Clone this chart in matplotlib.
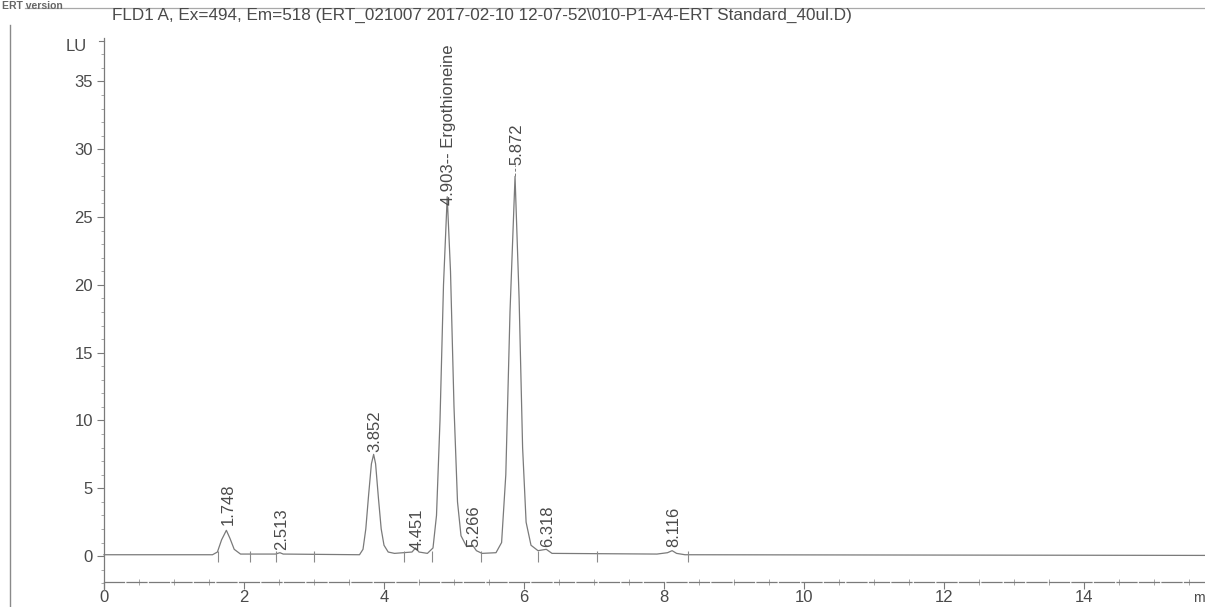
import matplotlib
matplotlib.use("Agg")
import matplotlib.pyplot as plt
from matplotlib.lines import Line2D
from matplotlib.ticker import MultipleLocator

# ---------------- data ----------------
trace_time = [0.0, 1.55, 1.62, 1.68, 1.748, 1.80, 1.86, 1.95, 2.45, 2.513, 2.56,
              3.65, 3.70, 3.74, 3.78, 3.82, 3.852, 3.88, 3.92, 3.96, 4.00, 4.06,
              4.15, 4.40, 4.451, 4.50, 4.62, 4.70, 4.75, 4.80, 4.85, 4.903, 4.95,
              5.00, 5.05, 5.10, 5.18, 5.266, 5.32, 5.40, 5.60, 5.68, 5.74, 5.80,
              5.872, 5.93, 5.98, 6.03, 6.10, 6.20, 6.318, 6.40, 7.90, 8.05, 8.116,
              8.18, 8.30, 15.8]
trace_signal = [0.1, 0.1, 0.3, 1.2, 1.9, 1.3, 0.5, 0.15, 0.15, 0.25, 0.15,
                0.1, 0.5, 2.0, 4.5, 6.8, 7.5, 6.8, 4.3, 2.0, 0.8, 0.3,
                0.2, 0.3, 0.6, 0.3, 0.2, 0.6, 3.0, 10.0, 20.0, 26.5, 21.0,
                11.0, 4.0, 1.5, 0.7, 0.8, 0.4, 0.2, 0.25, 1.0, 6.0, 18.0,
                28.0, 19.0, 8.0, 2.5, 0.8, 0.4, 0.5, 0.2, 0.15, 0.25, 0.4,
                0.2, 0.1, 0.05]

peak_times = [1.748, 2.513, 3.852, 4.451, 4.903, 5.266, 5.872, 6.318, 8.116]
peak_labels = ["1.748", "2.513", "3.852", "4.451", "4.903-- Ergothioneine",
               "5.266", "5.872", "6.318", "8.116"]
label_base = [2.3, 0.45, 7.7, 0.45, 25.9, 0.65, 28.8, 0.65, 0.65]
peak_tops = [1.9, 0.25, 7.5, 0.6, 26.5, 0.8, 28.0, 0.5, 0.4]

event_times = [1.63, 2.08, 2.45, 3.0, 4.28, 4.68, 5.38, 6.2, 7.04, 8.34]

x_ticks = [0, 2, 4, 6, 8, 10, 12, 14]
y_ticks = [0, 5, 10, 15, 20, 25, 30, 35]

title = "FLD1 A, Ex=494, Em=518 (ERT_021007 2017-02-10 12-07-52\\010-P1-A4-ERT Standard_40ul.D)"

# ---------------- style ----------------
plt.rcParams['font.family'] = ['Liberation Sans', 'DejaVu Sans']
TXT = '#4a4a4a'
LINE = '#7a7a7a'

W, H = 1205, 607
fig = plt.figure(figsize=(W / 100, H / 100), dpi=100)
fig.patch.set_facecolor('white')

ax_left, ax_right, ax_top, ax_bot = 104, 1205, 38, 590
ax = fig.add_axes([ax_left / W, (H - ax_bot) / H, (ax_right - ax_left) / W, (ax_bot - ax_top) / H])
ax.set_xlim(0, (ax_right - ax_left) / 70.0)
ax.set_ylim(-2.5, 38.2)
ax.patch.set_alpha(0)

for s in ('top', 'right'):
    ax.spines[s].set_visible(False)
ax.spines['bottom'].set_position(('data', -1.9))
for s in ('left', 'bottom'):
    ax.spines[s].set_color(LINE)
    ax.spines[s].set_linewidth(0.9)
ax.spines['bottom'].set_linestyle((0, (16, 2)))

ax.set_xticks(x_ticks)
ax.set_xticklabels([str(v) for v in x_ticks])
ax.xaxis.set_minor_locator(MultipleLocator(0.5))
ax.set_yticks(y_ticks)
ax.set_yticklabels([str(v) for v in y_ticks])
ax.yaxis.set_minor_locator(MultipleLocator(1))
ax.tick_params(axis='x', which='major', direction='out', length=5, width=0.8,
               color=LINE, labelcolor=TXT, labelsize=12, pad=1)
ax.tick_params(axis='x', which='minor', direction='inout', length=4, width=0.6, color='#9a9a9a')
ax.tick_params(axis='y', which='major', direction='out', length=5, width=0.8,
               color=LINE, labelcolor=TXT, labelsize=12, pad=3)
ax.tick_params(axis='y', which='minor', direction='out', length=2, width=0.6, color='#9a9a9a')

# trace
ax.plot(trace_time, trace_signal, color=LINE, lw=0.9, clip_on=False)

# integration event marks
ax.vlines(event_times, -0.4, 0.4, color='#8a8a8a', lw=0.8)

# peak labels
for t, lab, lb, top in zip(peak_times, peak_labels, label_base, peak_tops):
    if lb - top > 0.4:
        ax.plot([t, t], [top, lb], color=LINE, lw=0.7, ls=(0, (3, 2)))
    ax.text(t + 0.02, lb, lab, rotation=90, ha='center', va='bottom',
            fontsize=12, color=TXT)

# axis unit labels
ax.text(-0.25, 37.6, "LU", ha='right', va='center', fontsize=12, color=TXT)
ax.plot([-0.07, 0], [38.0, 38.0], color=LINE, lw=0.8, clip_on=False)
fig.text(1193 / W, 1 - 605 / H, "m", ha='left', va='bottom', fontsize=10, color=TXT)

# title
fig.text(112 / W, 1 - 15 / H, title, ha='left', va='center', fontsize=12.3, color=TXT)

# page frame lines from the scan
fig.add_artist(Line2D([10 / W, 10 / W], [0, 1 - 25 / H], color='#8a8a8a', lw=1.0))
fig.add_artist(Line2D([25 / W, 1], [1 - 8 / H, 1 - 8 / H], color='#a8a8a8', lw=0.9))
fig.text(2 / W, 1 - 1 / H, "ERT version", ha='left', va='top', fontsize=7.5,
         fontweight='bold', color='#666666')

fig.savefig("out.png", dpi=100, facecolor='white')
